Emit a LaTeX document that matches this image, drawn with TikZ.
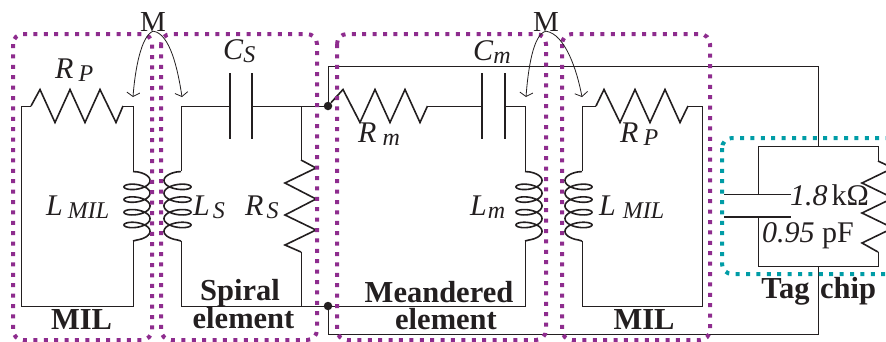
\documentclass[tikz,border=0pt]{standalone}
\usepackage{fontspec}
\setmainfont{Liberation Serif}
\usetikzlibrary{arrows.meta}
\definecolor{boxpurple}{HTML}{8E2C8E}
\definecolor{boxteal}{HTML}{009CA6}
\definecolor{ink}{HTML}{231F20}
\newcommand\coildraw[3]{\draw[part] (#1,171.6) -- plot[smooth,samples=220,domain=-90:1530,variable=\t] ({#2+(#3)*cos(\t)},{180.5+0.035278*\t+5.5*sin(\t)}) -- (#1,241);}
\newcommand\ital[3]{\textit{#1}\hspace{#3pt}\raisebox{-3.5pt}{\fontsize{24}{24}\selectfont\textit{#2}}}
\tikzset{
  wire/.style={draw=ink,line width=1pt,line join=miter},
  part/.style={draw=ink,line width=1.6pt,line join=miter},
  plate/.style={draw=ink,line width=1.7pt},
  dotbox/.style={line width=4pt,dash pattern=on 4pt off 6.4pt,rounded corners=10pt},
  junction/.style={circle,fill=ink,inner sep=0pt,minimum size=8.5pt},
  lab/.style={anchor=base west,inner sep=0pt,text=ink,font=\fontsize{30}{30}\selectfont},
  title/.style={anchor=base,inner sep=0pt,text=ink,font=\fontsize{30.5}{30.5}\selectfont\bfseries},
  mutual/.style={draw=ink,line width=.8pt,-{Straight Barb[length=4pt,width=13pt]}}
}
\begin{document}
\begin{tikzpicture}[x=1pt,y=-1pt]
\clip (0,0) rectangle (886,341);
% junctions
\node[junction] (jt) at (328,106) {};
\node[junction] (jb) at (328,306) {};
\coordinate (ot) at (328,66);
\coordinate (ob) at (328,334);
\coordinate (tr) at (818,66);
\coordinate (br) at (818,334);
\coordinate (ct) at (818,146);
\coordinate (cb) at (818,266);
% outer loop
\draw[wire] (jt) -- (ot) -- (tr) -- (ct);
\draw[wire] (jb) -- (ob) -- (br) -- (cb);
% MIL 1
\draw[wire] (31,106) -- (21,106) -- (21,306) -- (133,306) -- (133,241);
\draw[wire] (123,106) -- (133,106) -- (133,171);
\draw[part] (31,106) -- (40,89.5) -- (55,122.5) -- (70,89.5) -- (85,122.5) -- (100,89.5) -- (116,122.5) -- (123,106);
\coildraw{133}{137}{13}
% Spiral
\draw[wire] (181,171) -- (181,106) -- (230,106);
\draw[wire] (252,106) -- (jt);
\draw[plate] (230,73) -- (230,139);
\draw[plate] (252,73) -- (252,139);
\draw[wire] (301,106) -- (301,160);
\draw[part] (301,160) -- (316,168) -- (285,183) -- (316,199) -- (285,215) -- (316,230) -- (285,245) -- (301,252);
\draw[wire] (301,252) -- (301,306);
\draw[wire] (181,241) -- (181,306) -- (jb);
\coildraw{181}{177.5}{-13.5}
% Meandered
\draw[part] (jt) -- (343,89.5) -- (360,122.5) -- (375,89.5) -- (390,122.5) -- (405,89.5) -- (420,122.5) -- (427.5,106);
\draw[wire] (427.5,106) -- (482,106);
\draw[plate] (482,73) -- (482,139);
\draw[plate] (505,73) -- (505,139);
\draw[wire] (505,106) -- (525,106) -- (525,171);
\draw[wire] (525,241) -- (525,306) -- (jb);
\coildraw{525}{529}{13}
% MIL 2
\draw[wire] (582,171) -- (582,106) -- (596,106);
\draw[part] (596,106) -- (604,89.5) -- (620,122.5) -- (635,89.5) -- (650,122.5) -- (665,89.5) -- (680,122.5) -- (688,106);
\draw[wire] (688,106) -- (702,106) -- (702,306) -- (582,306) -- (582,241);
\coildraw{582}{578.5}{-13.5}
% Tag chip
\draw[wire] (758,194.5) -- (758,146) -- (878,146) -- (878,161);
\draw[wire] (758,217) -- (758,266) -- (878,266) -- (878,252);
\draw[plate] (724,194.5) -- (791,194.5);
\draw[plate] (724,217) -- (791,217);
\draw[part] (878,161) -- (893,168) -- (862,183) -- (893,198) -- (862,213) -- (893,228) -- (862,243) -- (878,252);
% dotted boxes
\draw[dotbox,boxpurple] (13,34) rectangle (152,340);
\draw[dotbox,boxpurple] (161,34) rectangle (317,340);
\draw[dotbox,boxpurple] (337,34) rectangle (546,340);
\draw[dotbox,boxpurple] (562,34) rectangle (710,340);
\draw[dotbox,boxteal] (722,138) rectangle (905,274);
% mutual coupling
\node[anchor=base,inner sep=0pt,text=ink,font=\fontsize{29}{29}\selectfont] (m1) at (153,31) {M};
\node[anchor=base,inner sep=0pt,text=ink,font=\fontsize{29}{29}\selectfont] (m2) at (546,31) {M};
\coordinate (m1l) at (133,97);
\coordinate (m1r) at (182,97);
\coordinate (m2l) at (526,97);
\coordinate (m2r) at (582,97);
\draw[mutual] (m1.south) .. controls (141,36) and (135,70) .. (m1l);
\draw[mutual] (m1.south) .. controls (170,33) and (178,70) .. (m1r);
\draw[mutual] (m2.south) .. controls (533,34) and (528,70) .. (m2l);
\draw[mutual] (m2.south) .. controls (565,34) and (577,70) .. (m2r);
% labels
\node[lab] (rp1) at (55,78) {\ital{R}{P}{5}};
\node[lab] (cs) at (223,59) {\ital{C}{S}{0}};
\node[lab] (lmil1) at (46,215) {\ital{L}{MIL}{5}};
\node[lab] (ls) at (193,215) {\ital{L}{S}{3}};
\node[lab] (rs) at (245,215) {\ital{R}{S}{3}};
\node[lab] (cm) at (473,60) {\ital{C}{m}{0}};
\node[lab] (rm) at (358,142) {\ital{R}{m}{6}};
\node[lab] (lm) at (470,215) {\ital{L}{m}{1}};
\node[lab] (rp2) at (620,142) {\ital{R}{P}{5}};
\node[lab] (lmil2) at (599,215) {\ital{L}{MIL}{7}};
\node[lab] (rval) at (790,205) {\textit{1.8}\hspace{4pt}kΩ};
\node[lab] (cval) at (762,242) {\textit{0.95} pF};
\node[title] (t1) at (81.5,329) {MIL};
\node[title] (t2) at (240,300) {Spiral};
\node[title] (t3) at (243.5,328) {element};
\node[title] (t4) at (439,302) {Meandered};
\node[title] (t5) at (446,329) {element};
\node[title] (t6) at (644,329) {MIL};
\node[title] (t7) at (785.5,298) {Tag};
\node[title] (t8) at (848,298) {chip};
\end{tikzpicture}
\end{document}
